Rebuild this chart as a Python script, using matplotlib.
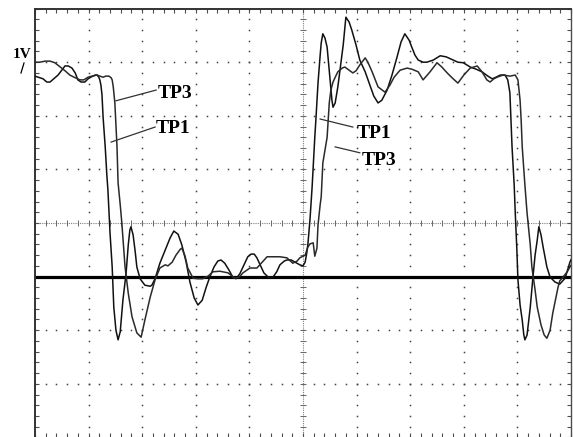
import numpy as np
import matplotlib
matplotlib.use("Agg")
import matplotlib.pyplot as plt

# ---- data (time and voltage in graticule divisions) ----
tp1_t = [0.00, 0.09, 0.15, 0.22, 0.28, 0.35, 0.43, 0.50, 0.56, 0.62, 0.69, 0.75, 0.80, 0.86, 0.93, 0.99,
         1.04, 1.12, 1.16, 1.19, 1.21, 1.23, 1.25, 1.27, 1.31, 1.34, 1.36, 1.40, 1.44, 1.47, 1.51, 1.55,
         1.59, 1.64, 1.70, 1.74, 1.77, 1.79, 1.83, 1.87, 1.90, 1.96, 2.05, 2.15, 2.18, 2.24, 2.33, 2.43,
         2.52, 2.59, 2.67, 2.74, 2.82, 2.89, 2.97, 3.04, 3.12, 3.19, 3.26, 3.34, 3.41, 3.47, 3.54, 3.62,
         3.69, 3.75, 3.82, 3.90, 3.97, 4.03, 4.09, 4.14, 4.20, 4.27, 4.35, 4.44, 4.51, 4.57, 4.65, 4.70,
         4.78, 4.85, 4.94, 5.00, 5.04, 5.07, 5.09, 5.13, 5.17, 5.19, 5.22, 5.24, 5.28, 5.32, 5.34, 5.37,
         5.41, 5.45, 5.50, 5.54, 5.56, 5.60, 5.65, 5.71, 5.75, 5.80, 5.86, 5.91, 5.99, 6.06, 6.16, 6.25,
         6.32, 6.40, 6.47, 6.57, 6.66, 6.75, 6.83, 6.90, 6.98, 7.03, 7.09, 7.15, 7.24, 7.31, 7.43, 7.56,
         7.67, 7.80, 7.89, 7.99, 8.12, 8.23, 8.34, 8.45, 8.53, 8.60, 8.68, 8.77, 8.82, 8.86, 8.88, 8.90,
         8.94, 8.96, 8.99, 9.01, 9.05, 9.09, 9.12, 9.14, 9.18, 9.24, 9.29, 9.33, 9.37, 9.40, 9.44, 9.48,
         9.55, 9.61, 9.70, 9.79, 9.89, 9.98, 10.04]
tp1_v = [2.74, 2.71, 2.69, 2.63, 2.63, 2.69, 2.76, 2.85, 2.93, 2.93, 2.89, 2.80, 2.67, 2.63, 2.63, 2.69,
         2.72, 2.76, 2.76, 2.72, 2.67, 2.57, 2.39, 1.98, 1.42, 0.90, 0.62, -0.19, -0.82, -1.57, -2.00, -2.18,
         -2.03, -1.44, -0.93, -0.41, -0.13, -0.07, -0.22, -0.54, -0.82, -1.04, -1.16, -1.18, -1.16, -1.04, -0.75, -0.50,
         -0.28, -0.15, -0.21, -0.41, -0.73, -1.10, -1.40, -1.53, -1.44, -1.21, -1.01, -0.82, -0.71, -0.69, -0.75, -0.88,
         -1.01, -1.04, -0.95, -0.78, -0.63, -0.58, -0.58, -0.65, -0.78, -0.93, -1.01, -1.01, -0.91, -0.78, -0.71, -0.69,
         -0.69, -0.73, -0.78, -0.80, -0.73, -0.56, -0.41, 0.06, 0.67, 1.04, 1.60, 1.92, 2.61, 3.13, 3.36, 3.53,
         3.45, 3.28, 2.72, 2.29, 2.16, 2.24, 2.54, 3.00, 3.32, 3.84, 3.75, 3.60, 3.32, 3.04, 2.82, 2.57,
         2.37, 2.24, 2.29, 2.48, 2.76, 3.08, 3.38, 3.53, 3.41, 3.28, 3.13, 3.04, 3.00, 3.00, 3.04, 3.12,
         3.10, 3.04, 3.00, 2.99, 2.91, 2.87, 2.82, 2.74, 2.69, 2.72, 2.76, 2.76, 2.67, 2.43, 1.92, 1.42,
         0.71, 0.19, -0.50, -1.06, -1.53, -1.81, -2.09, -2.18, -2.09, -1.57, -1.01, -0.60, -0.32, -0.07, -0.22, -0.45,
         -0.82, -1.01, -1.10, -1.14, -1.03, -0.73, -0.60]

tp3_t = [0.00, 0.09, 0.19, 0.28, 0.37, 0.47, 0.56, 0.65, 0.75, 0.84, 0.91, 0.99, 1.06, 1.16, 1.21, 1.27,
         1.32, 1.38, 1.42, 1.44, 1.46, 1.49, 1.51, 1.53, 1.55, 1.59, 1.62, 1.68, 1.74, 1.81, 1.90, 1.98,
         2.05, 2.15, 2.24, 2.33, 2.43, 2.48, 2.56, 2.63, 2.71, 2.74, 2.80, 2.85, 2.95, 3.04, 3.13, 3.23,
         3.32, 3.45, 3.60, 3.73, 3.81, 3.88, 4.01, 4.14, 4.24, 4.33, 4.44, 4.57, 4.70, 4.81, 4.89, 4.94,
         5.04, 5.09, 5.13, 5.19, 5.22, 5.26, 5.28, 5.32, 5.34, 5.37, 5.41, 5.45, 5.49, 5.52, 5.56, 5.62,
         5.65, 5.73, 5.78, 5.86, 5.93, 5.99, 6.06, 6.16, 6.21, 6.29, 6.40, 6.53, 6.62, 6.70, 6.81, 6.94,
         7.03, 7.15, 7.24, 7.37, 7.50, 7.59, 7.69, 7.78, 7.89, 8.00, 8.12, 8.25, 8.34, 8.43, 8.49, 8.56,
         8.62, 8.73, 8.86, 8.96, 9.01, 9.05, 9.07, 9.09, 9.14, 9.18, 9.24, 9.27, 9.33, 9.37, 9.44, 9.50,
         9.55, 9.61, 9.66, 9.72, 9.76, 9.79, 9.85, 9.93, 9.98, 10.04]
tp3_v = [3.00, 3.00, 3.02, 3.02, 2.99, 2.91, 2.84, 2.76, 2.71, 2.67, 2.67, 2.72, 2.74, 2.76, 2.74, 2.72,
         2.74, 2.74, 2.71, 2.67, 2.54, 2.24, 1.83, 1.42, 0.75, 0.34, 0.00, -0.82, -1.31, -1.75, -2.05, -2.13,
         -1.81, -1.38, -1.06, -0.84, -0.78, -0.80, -0.73, -0.60, -0.49, -0.47, -0.62, -0.84, -1.03, -1.04, -1.04, -0.99,
         -0.91, -0.90, -0.93, -1.03, -1.01, -0.93, -0.84, -0.84, -0.73, -0.63, -0.63, -0.63, -0.65, -0.75, -0.71, -0.65,
         -0.60, -0.45, -0.39, -0.37, -0.62, -0.47, -0.04, 0.34, 0.49, 1.12, 1.36, 1.60, 2.24, 2.48, 2.63, 2.76,
         2.82, 2.89, 2.91, 2.85, 2.80, 2.84, 2.95, 3.08, 3.00, 2.82, 2.54, 2.44, 2.57, 2.72, 2.85, 2.89,
         2.87, 2.82, 2.67, 2.82, 2.99, 2.91, 2.80, 2.71, 2.61, 2.76, 2.89, 2.93, 2.82, 2.67, 2.63, 2.69,
         2.72, 2.76, 2.74, 2.76, 2.67, 2.29, 1.92, 1.42, 0.71, 0.19, -0.41, -0.82, -1.25, -1.57, -1.90, -2.09,
         -2.15, -2.00, -1.68, -1.38, -1.19, -1.08, -1.01, -0.91, -0.82, -0.73]

ground_level = -1.0

# labels: (text, text x, text y, leader from x, y, leader to x, y)
labels = [("TP3", 2.28, 2.33, 2.26, 2.48, 1.51, 2.28),
          ("TP1", 2.26, 1.68, 2.24, 1.79, 1.42, 1.51),
          ("TP1", 6.01, 1.59, 5.93, 1.79, 5.32, 1.94),
          ("TP3", 6.10, 1.08, 6.06, 1.31, 5.60, 1.42)]

W, H = 573, 437
fig = plt.figure(figsize=(W / 100, H / 100), dpi=100)
fig.patch.set_facecolor("white")
ax = fig.add_axes([35 / W, -0.4 / H, 536 / W, 428.8 / H])
ax.set_xlim(0, 10)
ax.set_ylim(-4, 4)

# graticule dots
minor = np.round(np.arange(0, 10.001, 0.2), 2)
minor_y = np.round(np.arange(-4, 4.001, 0.2), 2)
for gx in [1, 2, 3, 4, 6, 7, 8, 9]:
    ax.plot(np.full_like(minor_y, gx), minor_y, ls="none", marker="s", ms=1.1, mew=0,
            color="0.25", zorder=1)
for gy in [-3, -2, -1, 1, 2, 3]:
    ax.plot(minor, np.full_like(minor, gy), ls="none", marker="s", ms=1.1, mew=0,
            color="0.25", zorder=1)

# centre axes with subdivision ticks
ax.axvline(5, color="0.5", lw=0.8, ls=(0, (1, 1)), zorder=1)
ax.axhline(0, color="0.5", lw=0.8, ls=(0, (1, 1)), zorder=1)
ax.vlines(minor, -0.06, 0.06, color="0.4", lw=0.7, zorder=1)
ax.hlines(minor_y, 4.94, 5.06, color="0.4", lw=0.7, zorder=1)

# ground reference line
ax.axhline(ground_level, color="black", lw=2.3, zorder=2)

# traces
ax.plot(tp1_t, tp1_v, color="#111111", lw=1.1, zorder=3)
ax.plot(tp3_t, tp3_v, color="#2a2a2a", lw=1.1, zorder=3)

# labels
for txt, tx, ty, lx0, ly0, lx1, ly1 in labels:
    ax.plot([lx0, lx1], [ly0, ly1], color="#333333", lw=0.9, zorder=4)
    ax.text(tx, ty, txt, fontsize=14, fontweight="bold", family="Liberation Serif",
            ha="left", va="baseline", zorder=5)

# border and ticks
ax.set_xticks(np.arange(0, 11, 1))
ax.set_yticks(np.arange(-4, 5, 1))
ax.set_xticks(minor, minor=True)
ax.set_yticks(minor_y, minor=True)
ax.tick_params(which="both", direction="in", length=3, width=0.8, color="0.3",
               top=True, bottom=True, left=True, right=True,
               labelbottom=False, labelleft=False)
for side in ["left", "top"]:
    ax.spines[side].set_linewidth(1.4)
    ax.spines[side].set_color("0.2")
ax.spines["right"].set_linewidth(1.0)
ax.spines["right"].set_color("0.3")
ax.spines["bottom"].set_visible(False)

# channel marker
fig.text(22 / W, 1 - 55 / H, "1V", fontsize=11, fontweight="bold",
         family="Liberation Serif", ha="center", va="center")
fig.add_artist(plt.Line2D([24 / W, 21 / W], [1 - 63 / H, 1 - 73 / H],
                          color="black", lw=0.9))

fig.savefig("out.png", dpi=100, facecolor="white")
